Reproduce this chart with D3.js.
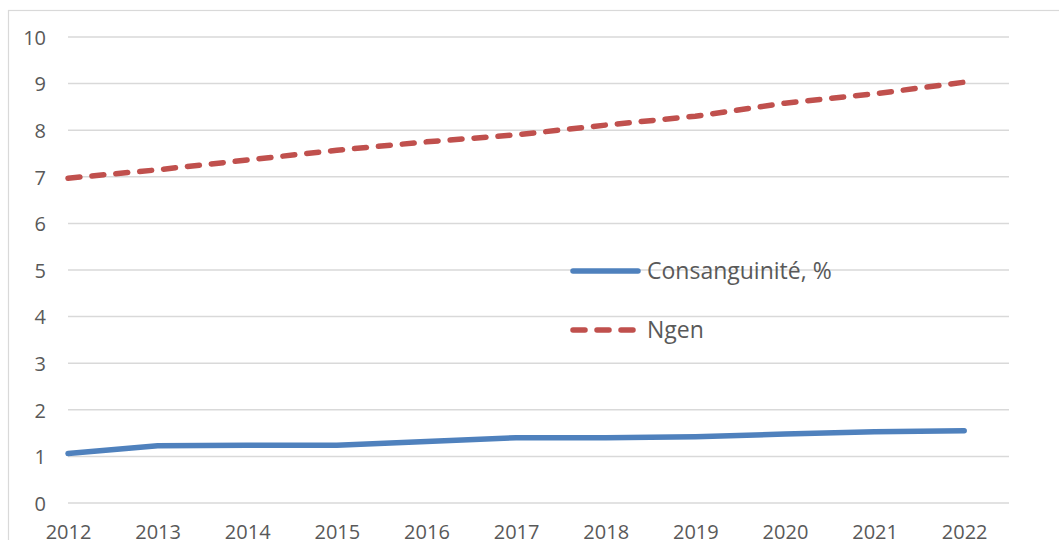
<!DOCTYPE html>
<html>
<head>
<meta charset="utf-8">
<script src="https://cdn.jsdelivr.net/npm/d3@7"></script>
<style>
  html, body { margin: 0; padding: 0; background: #fff; }
  svg { display: block; }
  text { font-family: "Open Sans", sans-serif; fill: #595959; }
</style>
</head>
<body>
<svg id="chart" width="1059" height="540"></svg>
<script>
// Years on the category axis
const years = [2012, 2013, 2014, 2015, 2016, 2017, 2018, 2019, 2020, 2021, 2022];
// Consanguinity rate, %
const consanguinite = [1.06, 1.23, 1.24, 1.24, 1.32, 1.40, 1.40, 1.42, 1.48, 1.53, 1.55];
// Number of generations
const ngen = [6.97, 7.15, 7.36, 7.57, 7.75, 7.90, 8.11, 8.30, 8.58, 8.78, 9.03];
// Value axis ticks
const yTicks = [0, 1, 2, 3, 4, 5, 6, 7, 8, 9, 10];
const seriesNames = ["Consanguinité, %", "Ngen"];

const svg = d3.select("#chart");
const FONT = "Open Sans, sans-serif";

// Outer chart frame
svg.append("rect")
  .attr("x", 8.5).attr("y", 10.5)
  .attr("width", 1100).attr("height", 600)
  .attr("fill", "none").attr("stroke", "#d9d9d9").attr("stroke-width", 1.2);

const plot = { left: 68, right: 1009, top: 37, bottom: 503 };

const x = d3.scaleLinear().domain([2012, 2022.5]).range([plot.left, plot.right]);
const y = d3.scaleLinear().domain([0, 10]).range([plot.bottom, plot.top]);

// Horizontal gridlines
svg.append("g")
  .selectAll("line")
  .data(yTicks)
  .join("line")
  .attr("x1", plot.left).attr("x2", plot.right)
  .attr("y1", d => y(d)).attr("y2", d => y(d))
  .attr("stroke", "#d9d9d9").attr("stroke-width", 1.5);

// Y axis labels
const yAxis = d3.axisLeft(y).tickValues(yTicks).tickSize(0).tickPadding(0);
svg.append("g")
  .attr("transform", `translate(${plot.left - 22},0)`)
  .call(yAxis)
  .call(g => g.select(".domain").remove())
  .call(g => g.selectAll("text")
    .attr("font-size", 20)
    .style("font-family", FONT)
    .attr("fill", "#595959")
    .attr("dy", "0.36em"));

// X axis labels
const xAxis = d3.axisBottom(x).tickValues(years).tickFormat(d3.format("d")).tickSize(0).tickPadding(0);
svg.append("g")
  .attr("transform", `translate(0,${plot.bottom + 22})`)
  .call(xAxis)
  .call(g => g.select(".domain").remove())
  .call(g => g.selectAll("text")
    .attr("font-size", 20)
    .style("font-family", FONT)
    .attr("fill", "#595959")
    .attr("dy", "0.72em"));

const line = d3.line().x(d => x(d[0])).y(d => y(d[1]));

// Ngen series (dashed)
svg.append("path")
  .datum(years.map((yr, i) => [yr, ngen[i]]))
  .attr("d", line)
  .attr("fill", "none")
  .attr("stroke", "#c0504d")
  .attr("stroke-width", 5.5)
  .attr("stroke-linecap", "round")
  .attr("stroke-dasharray", "12,12");

// Consanguinité series (solid)
svg.append("path")
  .datum(years.map((yr, i) => [yr, consanguinite[i]]))
  .attr("d", line)
  .attr("fill", "none")
  .attr("stroke", "#4f81bd")
  .attr("stroke-width", 5.5)
  .attr("stroke-linecap", "round")
  .attr("stroke-linejoin", "round");

// Legend
const legend = svg.append("g");
const legendItems = [
  { name: seriesNames[0], color: "#4f81bd", dash: null, y: 271, x2: 638 },
  { name: seriesNames[1], color: "#c0504d", dash: "12,12", y: 330, x2: 636 }
];
legendItems.forEach(it => {
  legend.append("line")
    .attr("x1", 573).attr("x2", it.x2)
    .attr("y1", it.y).attr("y2", it.y)
    .attr("stroke", it.color).attr("stroke-width", 5.5)
    .attr("stroke-linecap", "round")
    .attr("stroke-dasharray", it.dash);
  legend.append("text")
    .attr("x", 647).attr("y", it.y)
    .attr("dy", "0.36em")
    .attr("font-size", 23)
    .style("font-family", FONT)
    .text(it.name);
});
</script>
</body>
</html>
